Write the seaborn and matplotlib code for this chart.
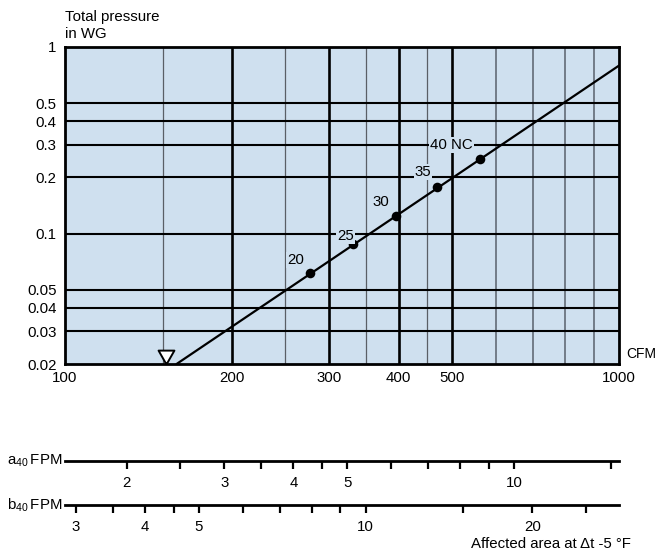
import matplotlib
matplotlib.use("Agg")
import matplotlib.pyplot as plt
from matplotlib.ticker import FixedLocator, FixedFormatter, NullLocator
import seaborn as sns

# Operating points along the system curve, labelled by NC rating
cfm_points = [277, 331, 395, 470, 561]
pressure_points = [0.0615, 0.0876, 0.124, 0.177, 0.251]
nc_labels = ["20", "25", "30", "35", "40 NC"]

# System curve end points (pressure rises with the square of flow)
curve_cfm = [159, 1000]
curve_pressure = [0.02, 0.795]

# Minimum flow marker on the CFM axis
min_cfm = 152

# Main chart ticks and grid
x_ticks = [100, 200, 300, 400, 500, 1000]
x_tick_labels = ["100", "200", "300", "400", "500", "1000"]
y_ticks = [0.02, 0.03, 0.04, 0.05, 0.1, 0.2, 0.3, 0.4, 0.5, 1]
y_tick_labels = ["0.02", "0.03", "0.04", "0.05", "0.1", "0.2", "0.3", "0.4", "0.5", "1"]
bold_cfm_lines = [200, 300, 400, 500]
fine_cfm_lines = [150, 250, 350, 450]
upper_cfm_lines = [600, 700, 800, 900]
pressure_lines = [0.03, 0.04, 0.05, 0.1, 0.2, 0.3, 0.4, 0.5]

# Throw scales: CFM per unit of affected area
cfm_per_a = 64.6
cfm_per_b = 34.9
a_ticks = [2, 2.5, 3, 3.5, 4, 4.5, 5, 6, 7, 8, 9, 10, 15]
a_labels = [2, 3, 4, 5, 10]
b_ticks = [3, 3.5, 4, 4.5, 5, 6, 7, 8, 9, 10, 15, 20, 25]
b_labels = [3, 4, 5, 10, 20]

sns.set_theme(style="white")
plt.rcParams["font.family"] = ["Liberation Sans", "DejaVu Sans"]
plt.rcParams["mathtext.fontset"] = "custom"
plt.rcParams["mathtext.rm"] = "Liberation Sans"
plt.rcParams["text.color"] = "black"
plt.rcParams["axes.labelcolor"] = "black"

FS = 10.8
BG = "#cfe0ef"
W, H = 660, 555
fig = plt.figure(figsize=(W / 100, H / 100), dpi=100)
fig.patch.set_facecolor("white")


def px_axes(left, top, right, bottom):
    return fig.add_axes([left / W, 1 - bottom / H, (right - left) / W, (bottom - top) / H])


ax = px_axes(65, 47, 619, 364)
ax.set_facecolor(BG)
ax.set_xscale("log")
ax.set_yscale("log")
ax.set_xlim(100, 1000)
ax.set_ylim(0.02, 1)

for x in fine_cfm_lines:
    ax.axvline(x, color="#5a5f66", lw=0.9, zorder=1)
for x in upper_cfm_lines:
    ax.axvline(x, color="#6b7480", lw=1.3, zorder=1)
for x in bold_cfm_lines:
    ax.axvline(x, color="black", lw=1.9, zorder=1)
for y in pressure_lines:
    ax.axhline(y, color="black", lw=1.5, zorder=1)

sns.lineplot(x=curve_cfm, y=curve_pressure, ax=ax, color="black", lw=1.6, zorder=3)
sns.scatterplot(x=cfm_points, y=pressure_points, ax=ax, color="black", s=48,
                edgecolor="black", linewidth=0, zorder=4)

label_offsets = [(-6, 13), (1, 8), (-6, 14), (-6, 15), (-7, 14)]
for cx, py, lab, (dx, dy) in zip(cfm_points, pressure_points, nc_labels, label_offsets):
    ax.annotate(lab, (cx, py), xytext=(dx, dy), textcoords="offset pixels",
                ha="right", va="center", fontsize=FS, color="black", zorder=5,
                bbox=dict(facecolor=BG, edgecolor="none", pad=0.6))

# open triangle sitting with its tip on the CFM axis
tri = [(0, 0), (-0.57, 1), (0.57, 1), (0, 0)]
ax.plot([min_cfm], [0.02], marker=tri, ms=20, mfc="white", mec="black", mew=1.4,
        ls="none", clip_on=False, zorder=6)

for s in ax.spines.values():
    s.set_linewidth(2)
    s.set_color("black")
    s.set_zorder(7)
ax.set_xticks(x_ticks, labels=x_tick_labels)
ax.set_yticks(y_ticks, labels=y_tick_labels)
ax.xaxis.set_minor_locator(NullLocator())
ax.yaxis.set_minor_locator(NullLocator())
ax.tick_params(axis="both", length=0, labelsize=FS, colors="black")
ax.tick_params(axis="y", pad=6)
ax.tick_params(axis="x", pad=5)
ax.set_xlabel("")
ax.set_ylabel("")

fig.text(65 / W, 1 - 17 / H, "Total pressure", ha="left", va="center", fontsize=FS)
fig.text(65 / W, 1 - 34 / H, "in WG", ha="left", va="center", fontsize=FS)
fig.text(626 / W, 1 - 354 / H, "CFM", ha="left", va="center", fontsize=10)


def throw_scale(y_px, cfm_per, ticks, labelled, name):
    sax = fig.add_axes([65 / W, 1 - y_px / H, 554 / W, 0.0001])
    sax.set_xscale("log")
    sax.set_xlim(100 / cfm_per, 1000 / cfm_per)
    for side in ["top", "left", "right"]:
        sax.spines[side].set_visible(False)
    sax.spines["bottom"].set_linewidth(2)
    sax.spines["bottom"].set_color("black")
    sax.set_yticks([])
    sax.xaxis.set_major_locator(FixedLocator(ticks))
    sax.xaxis.set_minor_locator(NullLocator())
    sax.xaxis.set_major_formatter(
        FixedFormatter([f"{t:g}" if t in labelled else "" for t in ticks]))
    sax.tick_params(axis="x", direction="out", length=5.5, width=1.6, pad=5.5,
                    labelsize=FS, colors="black", bottom=True)
    sax.patch.set_visible(False)
    fig.text(62 / W, 1 - y_px / H, name, ha="right", va="center", fontsize=FS)


throw_scale(461, cfm_per_a, a_ticks, a_labels, r"$\mathrm{a_{40}\,FPM}$")
throw_scale(505, cfm_per_b, b_ticks, b_labels, r"$\mathrm{b_{40}\,FPM}$")

fig.text(631 / W, 1 - 544 / H, "Affected area at \u0394t -5 \u00b0F",
         ha="right", va="center", fontsize=FS)

fig.savefig("out.png", dpi=100, facecolor="white")
